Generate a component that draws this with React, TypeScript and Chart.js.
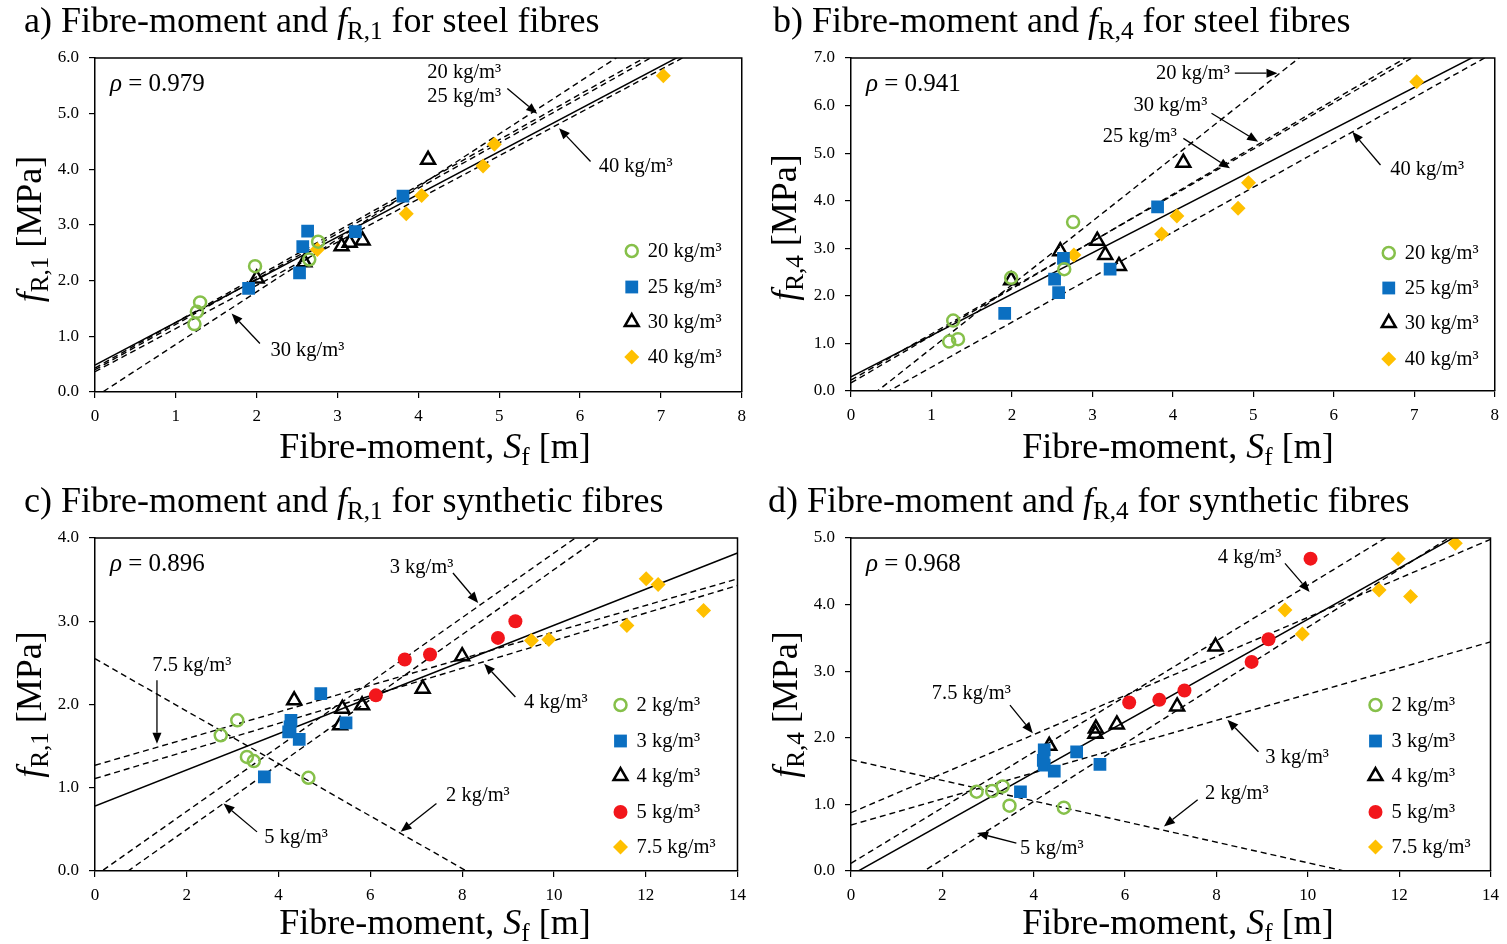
import React, { useEffect, useRef } from "react";
import { Chart, registerables } from "chart.js";

Chart.register(...registerables);

const SERIF = "'Liberation Serif', 'Times New Roman', serif";
const GREEN = "#86C04A";
const BLUE = "#0B6FC1";
const YELLOW = "#FFC000";
const RED = "#F2161B";

// ---------------- Panel a: fR,1 steel ----------------
const aLabels = ["20 kg/m³", "25 kg/m³", "30 kg/m³", "40 kg/m³"];
const aSf20 = [1.23, 1.26, 1.3, 1.98, 2.65, 2.76];
const aFr20 = [1.22, 1.44, 1.61, 2.26, 2.38, 2.7];
const aSf25 = [1.9, 2.53, 2.57, 2.63, 3.22, 3.81];
const aFr25 = [1.86, 2.14, 2.61, 2.89, 2.88, 3.52];
const aSf30 = [2.0, 2.59, 3.05, 3.15, 3.31, 4.12];
const aFr30 = [2.04, 2.33, 2.62, 2.68, 2.72, 4.17];
const aSf40 = [2.75, 3.85, 4.04, 4.8, 4.94, 7.03];
const aFr40 = [2.56, 3.2, 3.53, 4.06, 4.45, 5.68];
const aLineX = [0, 8];
const aFit20 = [0.43, 6.99];
const aFit25 = [0.4, 6.92];
const aFit30 = [-0.09, 7.47];
const aFit40 = [0.365, 6.57];
const aFitAll = [0.485, 6.62];
const aRho = "0.979";

// ---------------- Panel b: fR,4 steel ----------------
const bSf20 = [1.27, 1.22, 1.33, 1.99, 2.65, 2.76];
const bFr20 = [1.48, 1.04, 1.09, 2.38, 2.56, 3.55];
const bSf25 = [1.91, 2.53, 2.58, 2.64, 3.22, 3.81];
const bFr25 = [1.63, 2.35, 2.07, 2.79, 2.56, 3.87];
const bSf30 = [1.99, 2.6, 3.06, 3.16, 3.33, 4.13];
const bFr30 = [2.33, 2.94, 3.16, 2.86, 2.63, 4.8];
const bSf40 = [2.77, 3.86, 4.05, 4.81, 4.94, 7.03];
const bFr40 = [2.86, 3.3, 3.68, 3.84, 4.38, 6.5];
const bLineX = [0, 8];
const bFit20 = [-0.44, 10.25];
const bFit25 = [0.23, 8.0];
const bFit30 = [0.17, 8.1];
const bFit40 = [-0.445, 7.12];
const bFitAll = [0.3, 7.25];
const bRho = "0.941";

// ---------------- Panel c: fR,1 synthetic ----------------
const cLabels = ["2 kg/m³", "3 kg/m³", "4 kg/m³", "5 kg/m³", "7.5 kg/m³"];
const cSf2 = [2.74, 3.1, 3.31, 3.46, 4.65];
const cFr2 = [1.63, 1.81, 1.37, 1.32, 1.12];
const cSf3 = [3.69, 4.27, 4.25, 4.22, 4.45, 4.92, 5.47];
const cFr3 = [1.13, 1.81, 1.73, 1.67, 1.58, 2.13, 1.78];
const cSf4 = [4.34, 5.39, 5.82, 5.34, 7.14, 8.0];
const cFr4 = [2.05, 1.95, 1.99, 1.75, 2.19, 2.58];
const cSf5 = [6.12, 6.75, 7.3, 8.78, 9.16];
const cFr5 = [2.11, 2.54, 2.6, 2.8, 3.0];
const cSf75 = [9.51, 9.89, 11.59, 12.01, 12.27, 13.26];
const cFr75 = [2.77, 2.78, 2.95, 3.51, 3.44, 3.13];
const cLineX = [0, 14];
const cFit2 = [2.55, -1.86];
const cFit3 = [-0.058, 5.37];
const cFit4 = [1.11, 3.43];
const cFit5 = [-0.281, 5.18];
const cFit75 = [1.27, 3.51];
const cFitAll = [0.78, 3.82];
const cRho = "0.896";

// ---------------- Panel d: fR,4 synthetic ----------------
const dSf2 = [2.75, 3.09, 3.32, 3.47, 4.66];
const dFr2 = [1.19, 1.2, 1.27, 0.98, 0.95];
const dSf3 = [3.71, 4.23, 4.21, 4.23, 4.45, 4.94, 5.45];
const dFr3 = [1.19, 1.82, 1.66, 1.59, 1.5, 1.79, 1.6];
const dSf4 = [4.34, 5.36, 5.35, 5.82, 7.14, 7.98];
const dFr4 = [1.88, 2.14, 2.06, 2.2, 2.47, 3.37];
const dSf5 = [6.09, 6.75, 7.3, 8.77, 9.14, 10.06];
const dFr5 = [2.53, 2.57, 2.71, 3.14, 3.48, 4.69];
const dSf75 = [9.5, 9.88, 11.56, 11.98, 12.25, 13.23];
const dFr75 = [3.92, 3.56, 4.22, 4.69, 4.12, 4.92];
const dLineX = [0, 14];
const dFit2 = [1.67, -0.495];
const dFit3 = [0.69, 3.44];
const dFit4 = [0.115, 5.96];
const dFit5 = [-0.697, 5.4];
const dFit75 = [0.875, 4.98];
const dFitAll = [-0.061, 5.315];
const dRho = "0.968";

type Run = { t: string; i?: boolean; sub?: boolean };
type Mark = "ring" | "square" | "triangle" | "diamond" | "dot";

const TITLE_SIZE = 36;
const AXIS_TITLE_SIZE = 36;
const NOTE_SIZE = 20.5;
const RHO_SIZE = 25;
const TICK_SIZE = 17;

const zip = (xs: number[], ys: number[]) => xs.map((x, k) => ({ x, y: ys[k] }));

const markProps = (m: Mark) => {
  switch (m) {
    case "ring":
      return { pointStyle: "circle", pointRadius: 6, pointBackgroundColor: "rgba(0,0,0,0)", pointBorderColor: GREEN, pointBorderWidth: 2.5 };
    case "square":
      return { pointStyle: "rect", pointRadius: 9, pointBackgroundColor: BLUE, pointBorderColor: BLUE, pointBorderWidth: 0 };
    case "triangle":
      return { pointStyle: "triangle", pointRadius: 8, pointBackgroundColor: "rgba(0,0,0,0)", pointBorderColor: "#000", pointBorderWidth: 2.5 };
    case "diamond":
      return { pointStyle: "rectRot", pointRadius: 7.5, pointBackgroundColor: YELLOW, pointBorderColor: YELLOW, pointBorderWidth: 0 };
    default:
      return { pointStyle: "circle", pointRadius: 7, pointBackgroundColor: RED, pointBorderColor: RED, pointBorderWidth: 0 };
  }
};

function drawMarker(ctx: CanvasRenderingContext2D, m: Mark, x: number, y: number) {
  ctx.save();
  ctx.beginPath();
  if (m === "ring") {
    ctx.arc(x, y, 6, 0, Math.PI * 2);
    ctx.strokeStyle = GREEN;
    ctx.lineWidth = 2.5;
    ctx.stroke();
  } else if (m === "square") {
    ctx.fillStyle = BLUE;
    ctx.fillRect(x - 6.4, y - 6.4, 12.8, 12.8);
  } else if (m === "triangle") {
    const r = 8;
    for (let k = 0; k < 3; k++) {
      const a = (k * 2 * Math.PI) / 3;
      const px = x + Math.sin(a) * r;
      const py = y - Math.cos(a) * r;
      if (k === 0) ctx.moveTo(px, py);
      else ctx.lineTo(px, py);
    }
    ctx.closePath();
    ctx.strokeStyle = "#000";
    ctx.lineWidth = 2.5;
    ctx.stroke();
  } else if (m === "diamond") {
    const r = 7.5;
    ctx.moveTo(x - r, y);
    ctx.lineTo(x, y - r);
    ctx.lineTo(x + r, y);
    ctx.lineTo(x, y + r);
    ctx.closePath();
    ctx.fillStyle = YELLOW;
    ctx.fill();
  } else {
    ctx.arc(x, y, 7, 0, Math.PI * 2);
    ctx.fillStyle = RED;
    ctx.fill();
  }
  ctx.restore();
}

function drawRuns(ctx: CanvasRenderingContext2D, runs: Run[], x: number, y: number, size: number, align: "left" | "center") {
  const parts = runs.map((r) => {
    const s = r.sub ? size * 0.7 : size;
    const font = `${r.i ? "italic " : ""}${s}px ${SERIF}`;
    ctx.font = font;
    return { ...r, font, w: ctx.measureText(r.t).width, dy: r.sub ? size * 0.2 : 0 };
  });
  const total = parts.reduce((a, p) => a + p.w, 0);
  let cx = align === "center" ? x - total / 2 : x;
  ctx.textAlign = "left";
  ctx.textBaseline = "alphabetic";
  for (const p of parts) {
    ctx.font = p.font;
    ctx.fillText(p.t, cx, y + p.dy);
    cx += p.w;
  }
}

function drawArrow(ctx: CanvasRenderingContext2D, x1: number, y1: number, x2: number, y2: number) {
  const ang = Math.atan2(y2 - y1, x2 - x1);
  const L = 11;
  const W = 4.5;
  const bx = x2 - L * Math.cos(ang);
  const by = y2 - L * Math.sin(ang);
  ctx.beginPath();
  ctx.moveTo(x1, y1);
  ctx.lineTo(bx, by);
  ctx.lineWidth = 1.3;
  ctx.strokeStyle = "#000";
  ctx.stroke();
  ctx.beginPath();
  ctx.moveTo(x2, y2);
  ctx.lineTo(bx - W * Math.sin(ang), by + W * Math.cos(ang));
  ctx.lineTo(bx + W * Math.sin(ang), by - W * Math.cos(ang));
  ctx.closePath();
  ctx.fillStyle = "#000";
  ctx.fill();
}

type Note = { t: string; x: number; y: number; arrow?: number[] };

type Spec = {
  left: number; top: number; w: number; h: number;
  yAxisW: number; xAxisH: number; padTop: number; padRight: number;
  xMax: number; xStep: number; yMax: number;
  title: Run[]; titleX: number; titleY: number;
  xTitle: Run[]; xTitleX: number; xTitleY: number;
  yTitle: Run[]; yTitleX: number; yTitleShift: number;
  rho: string;
  series: { label: string; xs: number[]; ys: number[]; mark: Mark }[];
  lineX: number[];
  fits: { ys: number[]; solid?: boolean }[];
  notes: Note[];
  legendMarkDX: number; legendTextDX: number; legendRows: number[];
};

const xTitleRuns: Run[] = [{ t: "Fibre-moment, " }, { t: "S", i: true }, { t: "f", sub: true }, { t: " [m]" }];
const fr = (n: string): Run[] => [{ t: "f", i: true }, { t: "R," + n, sub: true }, { t: " [MPa]" }];
const titleRuns = (p: string, n: string, kind: string): Run[] => [
  { t: p + ") Fibre-moment and " }, { t: "f", i: true }, { t: "R," + n, sub: true }, { t: " for " + kind + " fibres" },
];

const steelMarks: Mark[] = ["ring", "square", "triangle", "diamond"];
const synthMarks: Mark[] = ["ring", "square", "triangle", "dot", "diamond"];

const specs: Spec[] = [
  {
    left: 0, top: 0, w: 754, h: 472, yAxisW: 95, xAxisH: 80, padTop: 58, padRight: 11,
    xMax: 8, xStep: 1, yMax: 6,
    title: titleRuns("a", "1", "steel"), titleX: 24, titleY: 32,
    xTitle: xTitleRuns, xTitleX: 435, xTitleY: 458,
    yTitle: fr("1"), yTitleX: 41, yTitleShift: 4,
    rho: aRho,
    series: [
      { label: aLabels[0], xs: aSf20, ys: aFr20, mark: steelMarks[0] },
      { label: aLabels[1], xs: aSf25, ys: aFr25, mark: steelMarks[1] },
      { label: aLabels[2], xs: aSf30, ys: aFr30, mark: steelMarks[2] },
      { label: aLabels[3], xs: aSf40, ys: aFr40, mark: steelMarks[3] },
    ],
    lineX: aLineX,
    fits: [{ ys: aFit20 }, { ys: aFit25 }, { ys: aFit30 }, { ys: aFit40 }, { ys: aFitAll, solid: true }],
    notes: [
      { t: "20 kg/m³", x: 4.11, y: 5.73 },
      { t: "25 kg/m³", x: 4.11, y: 5.3, arrow: [5.1, 5.45, 5.47, 5.0] },
      { t: "40 kg/m³", x: 6.23, y: 4.04, arrow: [6.13, 4.14, 5.74, 4.74] },
      { t: "30 kg/m³", x: 2.17, y: 0.74, arrow: [2.04, 0.87, 1.69, 1.41] },
    ],
    legendMarkDX: 110, legendTextDX: 94, legendRows: [141, 105, 70, 35],
  },
  {
    left: 754, top: 0, w: 753, h: 472, yAxisW: 97, xAxisH: 81, padTop: 58, padRight: 9,
    xMax: 8, xStep: 1, yMax: 7,
    title: titleRuns("b", "4", "steel"), titleX: 19, titleY: 32,
    xTitle: xTitleRuns, xTitleX: 424, xTitleY: 458,
    yTitle: fr("4"), yTitleX: 42, yTitleShift: 3,
    rho: bRho,
    series: [
      { label: aLabels[0], xs: bSf20, ys: bFr20, mark: steelMarks[0] },
      { label: aLabels[1], xs: bSf25, ys: bFr25, mark: steelMarks[1] },
      { label: aLabels[2], xs: bSf30, ys: bFr30, mark: steelMarks[2] },
      { label: aLabels[3], xs: bSf40, ys: bFr40, mark: steelMarks[3] },
    ],
    lineX: bLineX,
    fits: [{ ys: bFit20 }, { ys: bFit25 }, { ys: bFit30 }, { ys: bFit40 }, { ys: bFitAll, solid: true }],
    notes: [
      { t: "20 kg/m³", x: 3.79, y: 6.68, arrow: [4.77, 6.68, 5.3, 6.68] },
      { t: "30 kg/m³", x: 3.51, y: 5.99, arrow: [4.48, 5.84, 5.06, 5.24] },
      { t: "25 kg/m³", x: 3.13, y: 5.34, arrow: [4.13, 5.31, 4.71, 4.68] },
      { t: "40 kg/m³", x: 6.7, y: 4.65, arrow: [6.58, 4.75, 6.23, 5.45] },
    ],
    legendMarkDX: 106, legendTextDX: 90, legendRows: [138, 103, 68, 32],
  },
  {
    left: 0, top: 472, w: 754, h: 472, yAxisW: 95, xAxisH: 73, padTop: 66, padRight: 11,
    xMax: 14, xStep: 2, yMax: 4,
    title: titleRuns("c", "1", "synthetic"), titleX: 24, titleY: 40,
    xTitle: xTitleRuns, xTitleX: 435, xTitleY: 462,
    yTitle: fr("1"), yTitleX: 41, yTitleShift: 0,
    rho: cRho,
    series: [
      { label: cLabels[0], xs: cSf2, ys: cFr2, mark: synthMarks[0] },
      { label: cLabels[1], xs: cSf3, ys: cFr3, mark: synthMarks[1] },
      { label: cLabels[2], xs: cSf4, ys: cFr4, mark: synthMarks[2] },
      { label: cLabels[3], xs: cSf5, ys: cFr5, mark: synthMarks[3] },
      { label: cLabels[4], xs: cSf75, ys: cFr75, mark: synthMarks[4] },
    ],
    lineX: cLineX,
    fits: [{ ys: cFit2 }, { ys: cFit3 }, { ys: cFit4 }, { ys: cFit5 }, { ys: cFit75 }, { ys: cFitAll, solid: true }],
    notes: [
      { t: "3 kg/m³", x: 6.42, y: 3.64, arrow: [7.8, 3.58, 8.35, 3.22] },
      { t: "7.5 kg/m³", x: 1.25, y: 2.47, arrow: [1.35, 2.29, 1.35, 1.53] },
      { t: "4 kg/m³", x: 9.35, y: 2.02, arrow: [9.16, 2.09, 8.48, 2.49] },
      { t: "2 kg/m³", x: 7.65, y: 0.9, arrow: [7.44, 0.81, 6.66, 0.47] },
      { t: "5 kg/m³", x: 3.69, y: 0.4, arrow: [3.53, 0.47, 2.8, 0.81] },
    ],
    legendMarkDX: 117, legendTextDX: 101, legendRows: [166, 130, 95, 59, 24],
  },
  {
    left: 754, top: 472, w: 753, h: 472, yAxisW: 97, xAxisH: 73, padTop: 66, padRight: 9,
    xMax: 14, xStep: 2, yMax: 5,
    title: titleRuns("d", "4", "synthetic"), titleX: 14, titleY: 40,
    xTitle: xTitleRuns, xTitleX: 424, xTitleY: 462,
    yTitle: fr("4"), yTitleX: 43, yTitleShift: 0,
    rho: dRho,
    series: [
      { label: cLabels[0], xs: dSf2, ys: dFr2, mark: synthMarks[0] },
      { label: cLabels[1], xs: dSf3, ys: dFr3, mark: synthMarks[1] },
      { label: cLabels[2], xs: dSf4, ys: dFr4, mark: synthMarks[2] },
      { label: cLabels[3], xs: dSf5, ys: dFr5, mark: synthMarks[3] },
      { label: cLabels[4], xs: dSf75, ys: dFr75, mark: synthMarks[4] },
    ],
    lineX: dLineX,
    fits: [{ ys: dFit2 }, { ys: dFit3 }, { ys: dFit4 }, { ys: dFit5 }, { ys: dFit75 }, { ys: dFitAll, solid: true }],
    notes: [
      { t: "4 kg/m³", x: 8.03, y: 4.71, arrow: [9.5, 4.62, 10.04, 4.19] },
      { t: "7.5 kg/m³", x: 1.77, y: 2.67, arrow: [3.48, 2.49, 3.98, 2.07] },
      { t: "3 kg/m³", x: 9.07, y: 1.7, arrow: [8.92, 1.79, 8.24, 2.27] },
      { t: "2 kg/m³", x: 7.75, y: 1.16, arrow: [7.59, 1.07, 6.85, 0.67] },
      { t: "5 kg/m³", x: 3.7, y: 0.33, arrow: [3.62, 0.42, 2.76, 0.57] },
    ],
    legendMarkDX: 115, legendTextDX: 99, legendRows: [166, 130, 95, 59, 24],
  },
];

const decorPlugin = {
  id: "decor",
  afterDraw(chart: any, _args: any, opts: any) {
    const spec: Spec = opts.spec;
    if (!spec) return;
    const ctx: CanvasRenderingContext2D = chart.ctx;
    const { left, right, top, bottom } = chart.chartArea;
    const sx = chart.scales.x;
    const sy = chart.scales.y;
    ctx.save();
    // frame top & right
    ctx.strokeStyle = "#000";
    ctx.lineWidth = 1.5;
    ctx.beginPath();
    ctx.moveTo(left, top);
    ctx.lineTo(right, top);
    ctx.lineTo(right, bottom);
    ctx.stroke();
    ctx.fillStyle = "#000";
    // titles
    drawRuns(ctx, spec.title, spec.titleX, spec.titleY, TITLE_SIZE, "left");
    drawRuns(ctx, spec.xTitle, spec.xTitleX, spec.xTitleY, AXIS_TITLE_SIZE, "center");
    ctx.save();
    ctx.translate(spec.yTitleX, (top + bottom) / 2 + spec.yTitleShift);
    ctx.rotate(-Math.PI / 2);
    drawRuns(ctx, spec.yTitle, 0, 0, AXIS_TITLE_SIZE, "center");
    ctx.restore();
    // rho
    drawRuns(ctx, [{ t: "ρ", i: true }, { t: " = " + spec.rho }], left + 15, top + 33, RHO_SIZE, "left");
    // annotations
    for (const n of spec.notes) {
      ctx.font = `${NOTE_SIZE}px ${SERIF}`;
      ctx.textAlign = "left";
      ctx.textBaseline = "middle";
      ctx.fillStyle = "#000";
      ctx.fillText(n.t, sx.getPixelForValue(n.x), sy.getPixelForValue(n.y));
      if (n.arrow) {
        const [x1, y1, x2, y2] = n.arrow;
        drawArrow(ctx, sx.getPixelForValue(x1), sy.getPixelForValue(y1), sx.getPixelForValue(x2), sy.getPixelForValue(y2));
      }
    }
    // legend
    spec.series.forEach((s, k) => {
      const y = bottom - spec.legendRows[k];
      drawMarker(ctx, s.mark, right - spec.legendMarkDX, y);
      ctx.font = `${NOTE_SIZE}px ${SERIF}`;
      ctx.textAlign = "left";
      ctx.textBaseline = "middle";
      ctx.fillStyle = "#000";
      ctx.fillText(s.label, right - spec.legendTextDX, y + 1);
    });
    ctx.restore();
  },
};

function buildConfig(spec: Spec): any {
  const datasets: any[] = [
    ...spec.series.map((s) => ({
      label: s.label,
      data: zip(s.xs, s.ys),
      showLine: false,
      ...markProps(s.mark),
    })),
    ...spec.fits.map((f, k) => ({
      label: "fit" + k,
      data: zip(spec.lineX, f.ys),
      showLine: true,
      pointRadius: 0,
      borderColor: "#000",
      borderWidth: f.solid ? 1.5 : 1.4,
      borderDash: f.solid ? [] : [6, 4],
      fill: false,
    })),
  ];
  const tickFont = { family: SERIF, size: TICK_SIZE };
  return {
    type: "scatter",
    data: { datasets },
    plugins: [decorPlugin],
    options: {
      responsive: false,
      animation: false,
      events: [],
      layout: { padding: { left: 0, top: spec.padTop, right: spec.padRight, bottom: 0 } },
      plugins: {
        legend: { display: false },
        tooltip: { enabled: false },
        title: { display: false },
        decor: { spec },
      },
      scales: {
        x: {
          type: "linear",
          min: 0,
          max: spec.xMax,
          ticks: { stepSize: spec.xStep, color: "#000", font: tickFont, padding: 8, maxRotation: 0 },
          grid: { display: true, drawOnChartArea: false, drawTicks: true, tickLength: 6, color: "#000", lineWidth: 1.2 },
          border: { display: true, color: "#000", width: 1.5 },
          afterFit: (s: any) => { s.height = spec.xAxisH; },
        },
        y: {
          type: "linear",
          min: 0,
          max: spec.yMax,
          ticks: { stepSize: 1, color: "#000", font: tickFont, padding: 10, callback: (v: any) => Number(v).toFixed(1) },
          grid: { display: true, drawOnChartArea: false, drawTicks: true, tickLength: 6, color: "#000", lineWidth: 1.2 },
          border: { display: true, color: "#000", width: 1.5 },
          afterFit: (s: any) => { s.width = spec.yAxisW; },
        },
      },
    },
  };
}

function Panel({ spec }: { spec: Spec }) {
  const ref = useRef<HTMLCanvasElement>(null);
  useEffect(() => {
    const chart = new Chart(ref.current as HTMLCanvasElement, buildConfig(spec));
    return () => chart.destroy();
  }, [spec]);
  return (
    <canvas
      ref={ref}
      width={spec.w}
      height={spec.h}
      style={{ position: "absolute", left: spec.left, top: spec.top, width: spec.w, height: spec.h }}
    />
  );
}

export default function App() {
  return (
    <div style={{ position: "fixed", left: 0, top: 0, width: 1507, height: 944, background: "#fff" }}>
      {specs.map((s, k) => (
        <Panel key={k} spec={s} />
      ))}
    </div>
  );
}
